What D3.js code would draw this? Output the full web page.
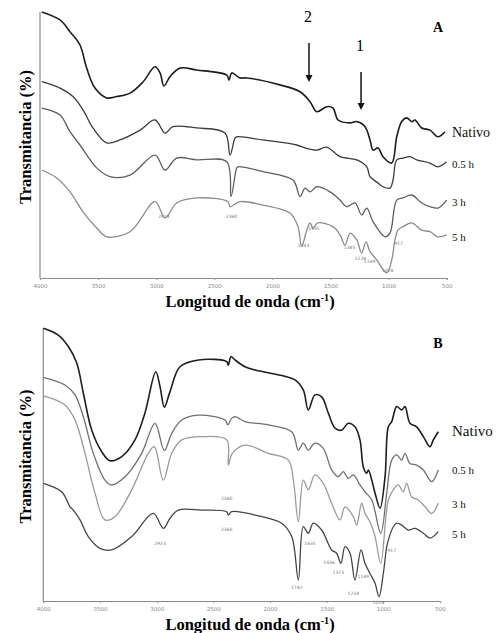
<!DOCTYPE html>
<html>
<head>
<meta charset="utf-8">
<script src="https://cdn.jsdelivr.net/npm/d3@7"></script>
<style>
  body { margin: 0; background: #fff; }
  svg { display: block; }
  .serif { font-family: "Liberation Serif", "DejaVu Serif", serif; }
</style>
</head>
<body>
<svg id="chart" width="501" height="633"></svg>
<script>
// wavenumber ticks shared by both panels
const xTicks = [4000, 3500, 3000, 2500, 2000, 1500, 1000, 500];
const seriesNames = ['Nativo', '0.5 h', '3 h', '5 h'];

// panel A spectra: [wavenumber (cm-1), transmittance (arbitrary %)]
const nativoA = [[3985,100],[3828,97],[3742,92.6],[3656,87.6],[3598,78.9],[3527,71.4],[3426,67.7],[3340,68.2],[3225,69.5],[3114,73.7],[3010,79.4],[2967,77.1],[2933,72.2],[2881,75.7],[2795,78.9],[2651,78.2],[2393,76.3],[2373,74.4],[2350,77.1],[2279,75.2],[2221,75.2],[1935,72.6],[1762,70],[1676,66.3],[1619,62.5],[1533,64.4],[1478,63.9],[1435,59.4],[1332,58.3],[1274,58.8],[1203,56.9],[1160,51.9],[1134,48.1],[1091,48.9],[1048,45.6],[973,43.2],[930,53.1],[887,58.8],[844,60.2],[801,58.8],[773,59.4],[715,56.4],[644,55.6],[575,53.1],[515,55]];
const h05A = [[3985,73.8],[3828,71.4],[3716,68.2],[3630,63.2],[3544,56.4],[3426,50.8],[3312,51.9],[3139,55.6],[3010,59.4],[2924,54.5],[2855,56.9],[2651,56.4],[2408,54.5],[2365,46.2],[2322,52.6],[2307,53.1],[2081,51.9],[1791,50],[1719,48.9],[1619,48.1],[1533,49.2],[1418,45.6],[1274,44.4],[1188,41.8],[1160,38.1],[1091,35.7],[1048,34.3],[988,33.8],[962,36.8],[930,44.4],[876,45.1],[816,45.6],[758,44.4],[644,43.2],[575,41.8],[500,43.7]];
const h3A = [[3985,63.9],[3828,61.3],[3742,55],[3656,50],[3512,41.4],[3398,38.1],[3225,38.7],[3010,46.2],[2924,40.6],[2824,45.1],[2651,44.4],[2393,43.7],[2356,30.6],[2307,41.4],[2296,41.8],[2081,40],[1823,36.8],[1762,30.6],[1719,33.8],[1676,32.4],[1619,34.3],[1504,32.4],[1418,29.3],[1361,26.8],[1289,28.2],[1232,23.7],[1188,26.3],[1134,21.2],[1031,15.5],[988,16.9],[930,29.3],[876,30.1],[801,31.2],[715,28.2],[644,26.8],[575,26.3],[500,29.3]];
const h5A = [[3985,40.6],[3856,37.6],[3742,32.4],[3630,24.9],[3512,18.8],[3426,15.5],[3225,17.4],[3010,28.7],[2924,22.6],[2824,28.2],[2651,30.1],[2382,28.7],[2365,26.8],[2279,28.7],[2081,27.4],[1849,24.4],[1780,19.3],[1748,11.8],[1711,16.9],[1676,20.7],[1651,18.8],[1608,20.7],[1478,19.3],[1418,16.2],[1375,12.4],[1332,16.9],[1274,14.3],[1232,9.4],[1194,13.6],[1160,9.9],[1102,6.8],[1016,1.9],[973,6.8],[945,14.3],[919,18],[876,19.3],[801,20.7],[715,18],[644,17.4],[575,15.5],[500,16.2]];

// panel B spectra
const nativoB = [[4000,99.9],[3868,97.4],[3779,93.2],[3705,87.2],[3647,76.2],[3573,62.6],[3485,54.7],[3412,51.4],[3308,52.9],[3191,59],[3103,68.9],[3008,84],[2970,78.5],[2932,71],[2882,76.7],[2794,85.8],[2632,88.3],[2382,87.7],[2368,86.4],[2344,89.5],[2309,88.3],[2220,85.8],[2132,84.6],[1779,81],[1706,77.3],[1662,70],[1603,75.5],[1544,74.8],[1485,68.8],[1426,63.3],[1367,62.6],[1309,65.1],[1250,63.8],[1206,59],[1177,49.2],[1147,46.8],[1132,48],[1102,44.3],[1073,39.5],[1029,34],[985,45.5],[956,63.8],[926,65.7],[882,71.2],[838,70],[809,71.2],[765,65.1],[706,63.8],[647,60.2],[588,56.5],[559,59],[515,62]];
const h05B = [[4000,81.9],[3809,79.1],[3720,75.5],[3647,67.5],[3559,54.1],[3456,44.3],[3397,42.5],[3279,45.5],[3132,54.1],[3014,65.1],[2932,55.1],[2867,61.4],[2779,66.3],[2632,68.1],[2397,66.3],[2373,64.5],[2338,66.9],[2309,67.5],[2220,65.7],[2015,64.5],[1808,62],[1750,55.3],[1706,57.8],[1662,55.3],[1603,57.8],[1530,55.9],[1456,48],[1397,45.5],[1353,47.4],[1309,44.9],[1265,46.2],[1206,42.5],[1162,40],[1102,37],[1023,24.8],[970,39.5],[926,51.6],[882,53.5],[838,51.6],[809,54.1],[765,50.4],[706,49.8],[647,48],[573,43.7],[515,48]];
const h3B = [[4000,75.1],[3809,71.8],[3720,66.3],[3632,54.1],[3544,39.5],[3456,29.7],[3368,30.9],[3220,40.7],[3074,54.1],[3021,56.5],[2941,44.3],[2867,54.1],[2779,59],[2602,60.2],[2382,59],[2368,49.8],[2332,54.1],[2220,57.1],[2015,54.1],[1838,51.6],[1794,44.3],[1750,29],[1706,44.3],[1662,40.7],[1603,46.2],[1530,43.1],[1456,35.8],[1382,29.7],[1338,34.5],[1265,30.9],[1235,27.8],[1191,35.8],[1162,32.1],[1118,29],[1073,23.6],[1023,13.8],[956,37],[912,40.7],[868,42.5],[824,40],[794,43.1],[750,38.2],[691,37],[632,34.5],[573,32.1],[515,35.8]];
const h5B = [[4000,43.1],[3838,40],[3764,34.5],[3735,33.3],[3676,29.7],[3603,23.6],[3500,19.3],[3397,18.7],[3220,23.6],[3030,32.1],[2941,26.6],[2882,30.3],[2809,33.3],[2602,33.3],[2382,32.7],[2368,31.5],[2338,32.7],[2220,32.3],[2132,31.5],[1897,28.5],[1808,23.6],[1750,7.7],[1706,27.2],[1662,24.8],[1618,28.5],[1544,26],[1456,18.7],[1412,17.5],[1374,13.8],[1338,19.9],[1294,17.5],[1250,7.7],[1197,18.7],[1162,13.8],[1118,10.1],[1073,6.5],[1038,1.6],[1000,10.1],[970,19.9],[956,22.3],[912,27.2],[882,28.5],[838,27.8],[780,26],[721,26.6],[647,24.8],[588,23],[515,25.4]];

// band labels: [text, wavenumber, transmittance]
const peaksA = [['2923',2933,22.6],['2360',2352,22.6],['1743',1732,11.7],['1635',1642,18],['1385',1336,10.9],['1228',1242,6.8],['1149',1164,5.6],['1018',1009,2.3],['917',915,12.4]];
const peaksB = [['2923',2970,20.5],['2360',2382,37],['2360',2382,25.6],['1742',1764,4.4],['1635',1647,20.5],['1436',1479,13.6],['1373',1397,9.9],['1234',1265,2.2],['1149',1177,8.4],['1018',1044,-1.1],['917',926,17.9]];

// legend label heights (transmittance) at the right edge
const legendA = [53, 41.5, 27, 14];
const legendB = [60.5, 46.5, 34, 23];

// arrows in panel A: [label, wavenumber, top, tip]
const arrows = [['2', 1685, 88.3, 73.7], ['1', 1237, 77.4, 63.2]];

const svg = d3.select('#chart');

const drawPanel = cfg => {
  const g = svg.append('g');
  const x = d3.scaleLinear().domain([4000, 500]).range([cfg.left, cfg.right]);
  const y = d3.scaleLinear().domain([0, 100]).range([cfg.bottom, cfg.top]);

  // axes
  g.append('line')
    .attr('x1', cfg.left).attr('x2', cfg.left)
    .attr('y1', cfg.top).attr('y2', cfg.bottom)
    .attr('stroke', '#8a8a8a').attr('stroke-width', 1.2);

  const xAxis = g.append('g')
    .attr('transform', `translate(0,${cfg.bottom})`)
    .call(d3.axisBottom(x).tickValues(xTicks).tickSize(2).tickPadding(4).tickFormat(d3.format('d')));
  xAxis.select('.domain').attr('stroke', '#8a8a8a').attr('stroke-width', 1.2);
  xAxis.selectAll('.tick line').attr('stroke', '#999');
  xAxis.selectAll('text')
    .attr('fill', '#888')
    .style('font-family', 'DejaVu Sans, sans-serif')
    .style('font-size', '5.5px');

  const line = d3.line()
    .x(d => x(d[0]))
    .y(d => y(d[1]))
    .curve(d3.curveCatmullRom.alpha(0.5));

  g.selectAll('.spectrum')
    .data(cfg.series)
    .enter()
    .append('path')
    .classed('spectrum', true)
    .attr('d', line)
    .attr('fill', 'none')
    .attr('stroke', (d, i) => cfg.colors[i])
    .attr('stroke-width', (d, i) => (i === 0 ? 1.6 : 1.3))
    .attr('stroke-linejoin', 'round');

  // band labels
  g.selectAll('.peak')
    .data(cfg.peaks)
    .enter()
    .append('text')
    .attr('x', d => x(d[1]))
    .attr('y', d => y(d[2]))
    .attr('text-anchor', 'middle')
    .attr('fill', '#777')
    .style('font-family', 'DejaVu Sans, sans-serif')
    .style('font-size', '4.5px')
    .text(d => d[0]);

  // series names
  g.selectAll('.name')
    .data(seriesNames)
    .enter()
    .append('text')
    .classed('serif', true)
    .attr('x', 452)
    .attr('y', (d, i) => y(cfg.legend[i]))
    .style('font-size', (d, i) => (i === 0 ? cfg.bigFont : '11px'))
    .attr('fill', '#111')
    .text(d => d);

  // panel letter
  g.append('text')
    .classed('serif', true)
    .attr('x', 438).attr('y', cfg.letterY)
    .attr('text-anchor', 'middle')
    .style('font-size', '14px').style('font-weight', 'bold')
    .text(cfg.letter);

  // axis titles
  g.append('text')
    .classed('serif', true)
    .attr('transform', `translate(31,${(cfg.top + cfg.bottom) / 2 - 8}) rotate(-90)`)
    .attr('text-anchor', 'middle')
    .style('font-size', '16.5px').style('font-weight', 'bold')
    .text('Transmitancia (%)');

  const xt = g.append('text')
    .classed('serif', true)
    .attr('x', 250).attr('y', cfg.bottom + 29)
    .attr('text-anchor', 'middle')
    .style('font-size', '16.5px').style('font-weight', 'bold')
    .text('Longitud de onda (cm');
  xt.append('tspan').attr('dy', -6).style('font-size', '10px').text('-1');
  xt.append('tspan').attr('dy', 6).text(')');

  return { x, y, g };
};

const panelA = drawPanel({
  left: 40, right: 446.7, top: 12, bottom: 278,
  series: [nativoA, h05A, h3A, h5A],
  colors: ['#1e1e1e', '#3c3c3c', '#5e5e5e', '#8c8c8c'],
  peaks: peaksA, legend: legendA, letter: 'A', letterY: 32, bigFont: '14px'
});

drawPanel({
  left: 43.3, right: 440, top: 328, bottom: 601,
  series: [nativoB, h05B, h3B, h5B],
  colors: ['#1e1e1e', '#707070', '#9a9a9a', '#454545'],
  peaks: peaksB, legend: legendB, letter: 'B', letterY: 348, bigFont: '15px'
});

// arrows marking bands 1 and 2 in panel A
arrows.forEach(([label, w, v0, v1]) => {
  const px = panelA.x(w), y0 = panelA.y(v0), y1 = panelA.y(v1);
  const g = panelA.g;
  g.append('line')
    .attr('x1', px).attr('x2', px).attr('y1', y0).attr('y2', y1 - 6)
    .attr('stroke', '#111').attr('stroke-width', 1.5);
  g.append('path')
    .attr('d', `M${px - 3.5},${y1 - 7}L${px + 3.5},${y1 - 7}L${px},${y1}Z`)
    .attr('fill', '#111');
  g.append('text')
    .classed('serif', true)
    .attr('x', px - 1).attr('y', y0 - 21)
    .attr('text-anchor', 'middle')
    .style('font-size', '16px')
    .text(label);
});
</script>
</body>
</html>
